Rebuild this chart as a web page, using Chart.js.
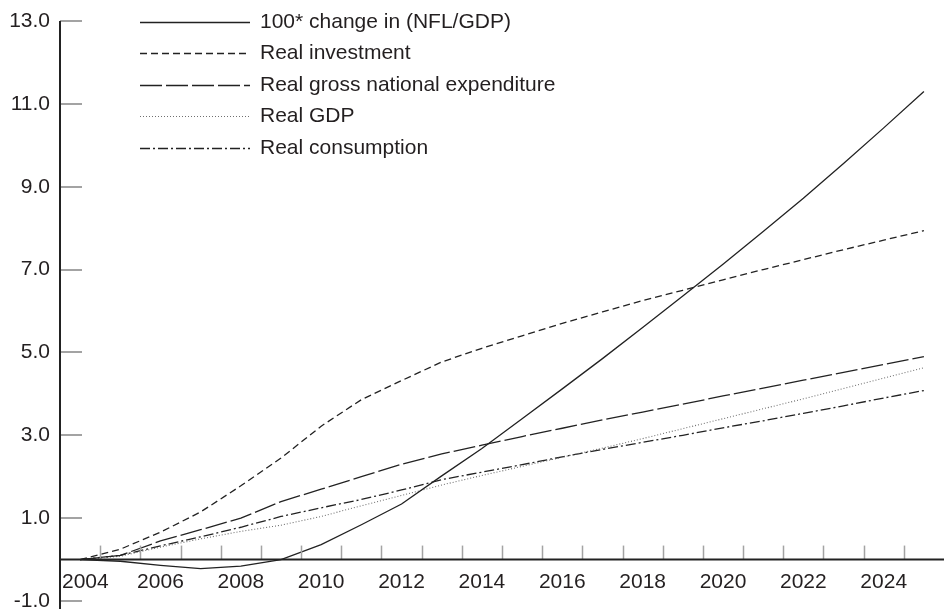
<!DOCTYPE html>
<html>
<head>
<meta charset="utf-8">
<script src="https://cdn.jsdelivr.net/npm/chart.js@4"></script>
<style>
  html, body { margin: 0; padding: 0; background: #ffffff; }
  canvas { display: block; }
</style>
</head>
<body>
<canvas id="graficoNfl" width="944" height="609"></canvas>
<script>
// Years on the category axis
const anos = ['2004', '2005', '2006', '2007', '2008', '2009', '2010', '2011', '2012', '2013', '2014',
              '2015', '2016', '2017', '2018', '2019', '2020', '2021', '2022', '2023', '2024', '2025'];

// Series values (percent deviation from baseline)
const nflGdp = [0, -0.04, -0.14, -0.22, -0.16, 0.0, 0.36, 0.84, 1.34, 2.02, 2.68,
                3.4, 4.12, 4.85, 5.6, 6.36, 7.13, 7.92, 8.72, 9.56, 10.42, 11.3];
const investimento = [0, 0.25, 0.66, 1.15, 1.78, 2.45, 3.22, 3.86, 4.32, 4.77, 5.1,
                      5.4, 5.7, 5.98, 6.25, 6.5, 6.75, 7.0, 7.24, 7.48, 7.71, 7.94];
const despesaNacional = [0, 0.1, 0.45, 0.72, 1.0, 1.4, 1.7, 2.0, 2.3, 2.55, 2.76,
                         2.97, 3.17, 3.37, 3.56, 3.75, 3.95, 4.14, 4.33, 4.52, 4.71, 4.9];
const pib = [0, 0.08, 0.3, 0.5, 0.68, 0.83, 1.04, 1.3, 1.55, 1.8, 2.03,
             2.25, 2.47, 2.69, 2.92, 3.16, 3.4, 3.64, 3.88, 4.13, 4.38, 4.63];
const consumo = [0, 0.1, 0.33, 0.55, 0.78, 1.04, 1.25, 1.45, 1.68, 1.93, 2.11,
                 2.29, 2.48, 2.66, 2.83, 3.0, 3.18, 3.35, 3.53, 3.71, 3.9, 4.08];

// Tick labels shown under the zero line
const rotulosX = ['2004', '2006', '2008', '2010', '2012', '2014', '2016', '2018', '2020', '2022', '2024'];
const yMin = -1;
const yMax = 13;
const yPasso = 2;

const fonte = '"Liberation Sans", Arial, Helvetica, sans-serif';
const corTexto = '#231f20';
const corLinha = '#222222';
const corMarca = '#a3a3a3';

// Axes at zero, inward tick marks and the legend in the upper left
const eixosLegenda = {
    id: 'eixosLegenda',
    afterDraw(chart) {
        const { ctx, chartArea, scales: { x, y } } = chart;
        const esquerda = chartArea.left;
        const y0 = y.getPixelForValue(0);
        ctx.save();

        // y tick marks, pointing into the plot
        ctx.strokeStyle = corMarca;
        ctx.lineWidth = 2;
        y.ticks.forEach(t => {
            const py = Math.round(y.getPixelForValue(t.value));
            ctx.beginPath();
            ctx.moveTo(esquerda, py);
            ctx.lineTo(esquerda + 22, py);
            ctx.stroke();
        });

        // x tick marks at the boundaries between years
        ctx.lineWidth = 1.5;
        for (let i = 1; i < anos.length; i++) {
            const px = Math.round((x.getPixelForValue(i - 1) + x.getPixelForValue(i)) / 2) + 0.5;
            ctx.beginPath();
            ctx.moveTo(px, y0 - 14);
            ctx.lineTo(px, y0);
            ctx.stroke();
        }

        // axis lines
        ctx.strokeStyle = corLinha;
        ctx.lineWidth = 2;
        ctx.beginPath();
        ctx.moveTo(esquerda, chartArea.top);
        ctx.lineTo(esquerda, chart.height);
        ctx.moveTo(esquerda, y0);
        ctx.lineTo(chart.width, y0);
        ctx.stroke();

        // year labels under the zero line
        ctx.font = '21px ' + fonte;
        ctx.fillStyle = corTexto;
        ctx.textBaseline = 'middle';
        rotulosX.forEach(ano => {
            const px = x.getPixelForValue(anos.indexOf(ano));
            const largura = ctx.measureText(ano).width;
            const inicio = Math.max(px - largura / 2, esquerda + 2);
            ctx.textAlign = 'left';
            ctx.fillText(ano, inicio, y0 + 23);
        });

        // legend: line sample on the left, label on the right
        const linhaIni = 140;
        const linhaFim = 250;
        chart.data.datasets.forEach((ds, i) => {
            const ly = Math.round(21.5 + i * 31.5) + 0.5;
            ctx.strokeStyle = ds.borderColor;
            ctx.lineWidth = ds.borderWidth;
            ctx.setLineDash(ds.borderDash || []);
            ctx.beginPath();
            ctx.moveTo(linhaIni, ly);
            ctx.lineTo(linhaFim, ly);
            ctx.stroke();
            ctx.setLineDash([]);
            ctx.fillStyle = corTexto;
            ctx.textAlign = 'left';
            ctx.fillText(ds.label, 260, ly);
        });

        ctx.restore();
    }
};

function serie(rotulo, valores, tracejado, cor, largura) {
    return {
        label: rotulo,
        data: valores,
        borderColor: cor,
        borderWidth: largura,
        borderDash: tracejado,
        pointRadius: 0,
        tension: 0,
        fill: false
    };
}

const ctx = document.getElementById('graficoNfl').getContext('2d');
new Chart(ctx, {
    type: 'line',
    data: {
        labels: anos,
        datasets: [
            serie('100* change in (NFL/GDP)', nflGdp, [], corLinha, 1.3),
            serie('Real investment', investimento, [7, 4], corLinha, 1.3),
            serie('Real gross national expenditure', despesaNacional, [22, 4], corLinha, 1.3),
            serie('Real GDP', pib, [1, 2], '#6f6f6f', 1.1),
            serie('Real consumption', consumo, [10, 3, 2, 3], corLinha, 1.3)
        ]
    },
    plugins: [eixosLegenda],
    options: {
        responsive: false,
        animation: false,
        events: [],
        layout: { padding: { top: 21, bottom: 8, left: 0, right: -3 } },
        plugins: {
            legend: { display: false },
            tooltip: { enabled: false }
        },
        scales: {
            x: {
                type: 'category',
                display: false,
                offset: true
            },
            y: {
                min: yMin,
                max: yMax,
                afterFit(scale) {
                    scale.width = 60;
                    scale.paddingTop = 0;
                    scale.paddingBottom = 0;
                },
                border: { display: false },
                grid: { display: false, drawTicks: false },
                ticks: {
                    stepSize: yPasso,
                    padding: 10,
                    color: corTexto,
                    font: { family: fonte, size: 21 },
                    callback: v => Number(v).toFixed(1)
                }
            }
        }
    }
});
</script>
</body>
</html>
